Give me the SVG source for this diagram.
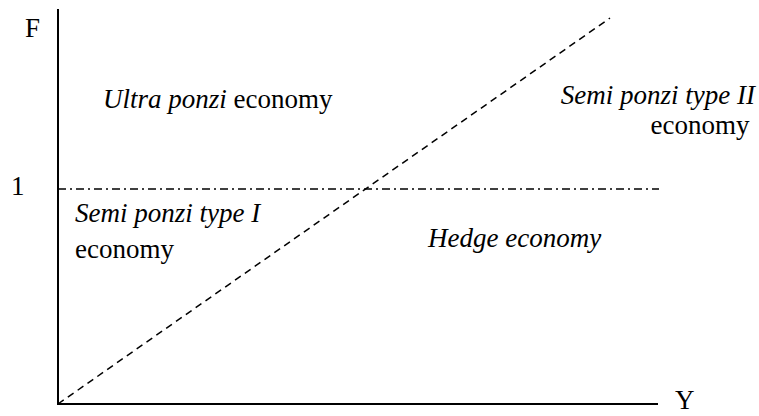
<svg xmlns="http://www.w3.org/2000/svg" width="759" height="416" viewBox="0 0 759 416" font-family="'Liberation Serif', 'Times New Roman', serif" font-size="27">
<style>
.i{font-style:italic}
.ax{stroke:#000;stroke-width:2;fill:none}
</style>
<rect width="759" height="416" fill="#fff"/>
<g id="connectors">
<line class="ax" x1="58" y1="9" x2="58" y2="405"/>
<line class="ax" x1="57" y1="404" x2="658" y2="404"/>
<line x1="58" y1="404" x2="610" y2="18" stroke="#000" stroke-width="1.5" stroke-dasharray="7,5"/>
<line x1="58" y1="189" x2="659" y2="189" stroke="#000" stroke-width="1.5" stroke-dasharray="8,4,2,4"/>
</g>
<g id="axisF"><text x="25" y="37">F</text></g>
<g id="tick1"><text x="11" y="195">1</text></g>
<g id="axisY"><text x="675" y="409">Y</text></g>
<g id="ultra"><text x="103" y="108"><tspan class="i">Ultra ponzi</tspan> economy</text></g>
<g id="semi2"><text x="755" y="104" text-anchor="end" class="i">Semi ponzi type II</text><text x="700" y="134" text-anchor="middle">economy</text></g>
<g id="semi1"><text x="75" y="222" class="i">Semi ponzi type I</text><text x="75" y="258">economy</text></g>
<g id="hedge"><text x="428" y="247" class="i">Hedge economy</text></g>
</svg>
